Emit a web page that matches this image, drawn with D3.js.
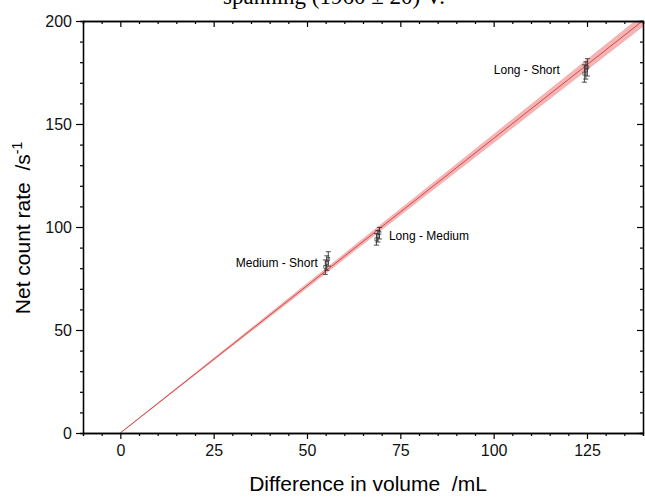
<!DOCTYPE html>
<html>
<head>
<meta charset="utf-8">
<script src="https://cdn.jsdelivr.net/npm/d3@7"></script>
<style>
  html, body { margin: 0; padding: 0; background: #fff; }
  svg { display: block; font-family: Arial, 'Liberation Sans', sans-serif; }
  text { white-space: pre; }
</style>
</head>
<body>
<div id="app"></div>
<script>
// fitted line (volume difference vs net count rate) with its confidence band
const fitVolume = [0, 20, 40, 60, 80, 100, 120, 140]
const fitRate = [0, 28.6, 57.2, 85.8, 114.4, 143.0, 171.6, 200.2]
const fitBand = [0.2, 0.6, 1.0, 1.4, 1.8, 2.2, 2.6, 3.0]

// measured pairs, each with a few stacked points + error bars
const pairNames = ['Medium - Short', 'Long - Medium', 'Long - Short']
const pairVolume = [55.3, 69, 124.7]
const pairRates = [[80.5, 82.5, 84.5], [94, 95.5, 97], [174.5, 176, 177.5]]
const pairErr = [3.5, 2.8, 4.2]

const xTicks = [0, 25, 50, 75, 100, 125]
const yTicks = [0, 50, 100, 150, 200]

const config = {
  width: 645,
  height: 497,
  left: 83,
  right: 643,
  top: 21,
  bottom: 433,
}

const draw = () => {
  const svg = d3.select('#app').append('svg')
    .attr('width', config.width)
    .attr('height', config.height)

  const x = d3.scaleLinear().domain([-10, 140]).range([config.left, config.right])
  const y = d3.scaleLinear().domain([0, 200]).range([config.bottom, config.top])

  // clipped title from the page above the figure
  svg.append('text')
    .attr('x', 334).attr('y', 4)
    .attr('text-anchor', 'middle')
    .style('font-family', "'Liberation Serif', 'Times New Roman', serif")
    .style('font-size', '23px')
    .text('spanning (1960 ± 20) V.')

  const plot = svg.append('g')
  plot.append('clipPath').attr('id', 'clip')
    .append('rect')
    .attr('x', config.left).attr('y', config.top)
    .attr('width', config.right - config.left)
    .attr('height', config.bottom - config.top)

  const fit = fitVolume.map((v, i) => ({v, r: fitRate[i], b: fitBand[i]}))

  const area = d3.area()
    .x((d) => x(d.v))
    .y0((d) => y(d.r - d.b))
    .y1((d) => y(d.r + d.b))
  const line = d3.line()
    .x((d) => x(d.v))
    .y((d) => y(d.r))

  const g = plot.append('g').attr('clip-path', 'url(#clip)')
  g.append('path').datum(fit)
    .attr('d', area)
    .attr('fill', '#f08a8a')
    .attr('opacity', 0.65)
  g.append('path').datum(fit)
    .attr('d', line)
    .attr('fill', 'none')
    .attr('stroke', '#cf4b4b')
    .attr('stroke-width', 1)

  // error bar groups
  const offs = [-1.5, 0, 1.5]
  pairNames.forEach((name, i) => {
    const cx = x(pairVolume[i])
    pairRates[i].forEach((r, j) => {
      const px = cx + offs[j]
      const eb = plot.append('g')
      eb.append('line')
        .attr('x1', px).attr('x2', px)
        .attr('y1', y(r - pairErr[i])).attr('y2', y(r + pairErr[i]))
        .attr('stroke', '#222').attr('stroke-width', 0.8)
      ;[r - pairErr[i], r + pairErr[i]].forEach((e) => {
        eb.append('line')
          .attr('x1', px - 2.5).attr('x2', px + 2.5)
          .attr('y1', y(e)).attr('y2', y(e))
          .attr('stroke', '#222').attr('stroke-width', 0.8)
      })
      eb.append('rect')
        .attr('x', px - 1.5).attr('y', y(r) - 1.5)
        .attr('width', 3).attr('height', 3)
        .attr('fill', 'none').attr('stroke', '#333').attr('stroke-width', 0.6)
    })
  })

  // labels beside the error bars
  const labelDx = [-9, 11, -26]
  const labelAnchor = ['end', 'start', 'end']
  pairNames.forEach((name, i) => {
    const mid = d3.mean(pairRates[i])
    svg.append('text')
      .attr('x', x(pairVolume[i]) + labelDx[i])
      .attr('y', y(mid) + 4)
      .attr('text-anchor', labelAnchor[i])
      .style('font-size', '12px')
      .text(name)
  })

  // axes
  const axisStyle = (sel) => {
    sel.select('.domain').attr('stroke', '#000').attr('stroke-width', 1.3)
    sel.selectAll('.tick line').attr('stroke', '#000').attr('stroke-width', 1.2)
    sel.selectAll('text').style('font-size', '16px').style('fill', '#111')
      .style('font-family', "Arial, 'Liberation Sans', sans-serif")
  }
  const xMinor = d3.range(-10, 141, 5).filter((v) => v % 25 !== 0)
  const yMinor = d3.range(0, 201, 10).filter((v) => v % 50 !== 0)

  // minor ticks
  svg.append('g').attr('transform', `translate(0,${config.bottom})`)
    .call(d3.axisBottom(x).tickValues(xMinor).tickSize(3).tickFormat(''))
    .call(axisStyle)
  svg.append('g').attr('transform', `translate(0,${config.top})`)
    .call(d3.axisTop(x).tickValues(xMinor).tickSize(-3).tickFormat(''))
    .call(axisStyle)
  svg.append('g').attr('transform', `translate(${config.left},0)`)
    .call(d3.axisLeft(y).tickValues(yMinor).tickSize(3).tickFormat(''))
    .call(axisStyle)
  svg.append('g').attr('transform', `translate(${config.right},0)`)
    .call(d3.axisRight(y).tickValues(yMinor).tickSize(-3).tickFormat(''))
    .call(axisStyle)

  // major ticks
  svg.append('g').attr('transform', `translate(0,${config.bottom})`)
    .call(d3.axisBottom(x).tickValues(xTicks).tickSize(6).tickPadding(6).tickSizeOuter(0))
    .call(axisStyle)
  svg.append('g').attr('transform', `translate(0,${config.top})`)
    .call(d3.axisTop(x).tickValues(xTicks).tickSize(-6).tickFormat('').tickSizeOuter(0))
    .call(axisStyle)
  svg.append('g').attr('transform', `translate(${config.left},0)`)
    .call(d3.axisLeft(y).tickValues(yTicks).tickSize(7).tickPadding(4).tickSizeOuter(0))
    .call(axisStyle)
  svg.append('g').attr('transform', `translate(${config.right},0)`)
    .call(d3.axisRight(y).tickValues(yTicks).tickSize(-6).tickFormat('').tickSizeOuter(0))
    .call(axisStyle)

  // axis titles
  svg.append('text')
    .attr('x', 368).attr('y', 491)
    .attr('text-anchor', 'middle')
    .style('font-size', '21px')
    .text('Difference in volume  /mL')

  const yt = svg.append('text')
    .attr('transform', 'translate(30,228) rotate(-90)')
    .attr('text-anchor', 'middle')
    .style('font-size', '21px')
  yt.append('tspan').text('Net count rate  /s')
  yt.append('tspan').attr('dy', -8).style('font-size', '14px').text('-1')
}
draw()
</script>
</body>
</html>
